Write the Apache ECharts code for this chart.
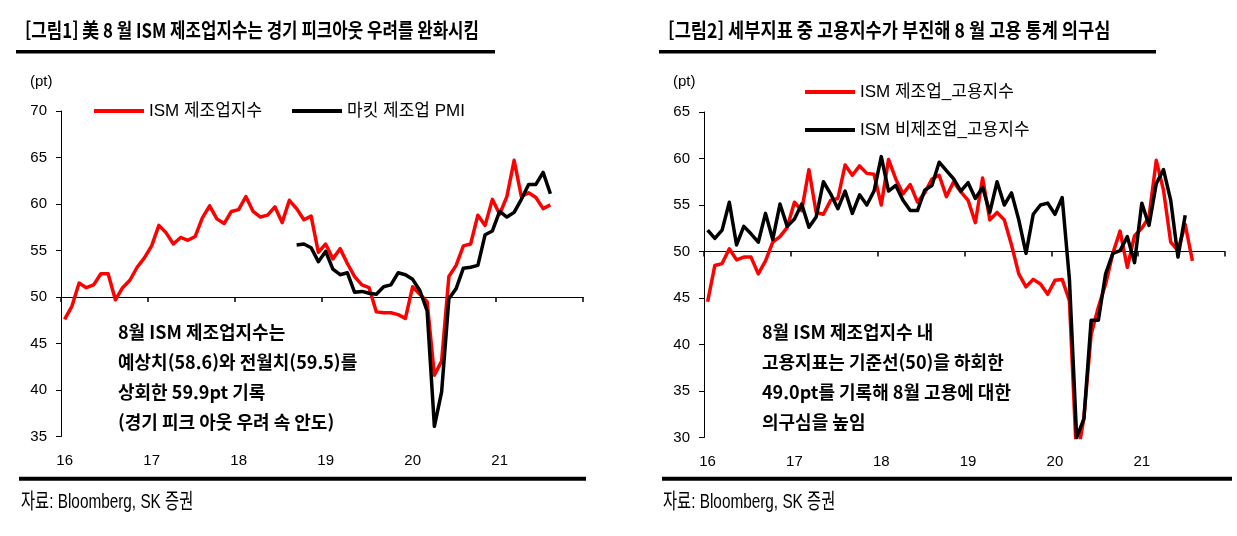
<!DOCTYPE html>
<html lang="ko">
<head>
  <meta charset="UTF-8">
  <title>ISM 제조업지수 / 고용지수</title>
  <script src="https://cdn.jsdelivr.net/npm/echarts@6/dist/echarts.min.js"></script>
  <style>html, body { margin: 0; padding: 0; background: #fff; }</style>
</head>
<body>
  <div id="main" style="width: 1237px; height: 536px;"></div>

  <script>
    // monthly categories, Jan 2016 - Dec 2021 (axis labels show the year only)
    const years = ['16', '17', '18', '19', '20', '21'];
    const months = [];
    years.forEach(y => { for (let m = 1; m <= 12; m++) months.push(y + '-' + m); });

    // [그림1] ISM manufacturing vs Markit manufacturing PMI (pt)
    const ismMfg = [
      47.6, 49.0, 51.5, 51.0, 51.3, 52.5, 52.5, 49.7, 51.0, 51.8, 53.2, 54.2,
      55.5, 57.7, 56.9, 55.7, 56.4, 56.1, 56.5, 58.5, 59.8, 58.4, 57.9, 59.2,
      59.4, 60.8, 59.2, 58.6, 58.8, 59.7, 58.0, 60.4, 59.5, 58.3, 58.7, 54.8,
      55.7, 54.1, 55.2, 53.6, 52.2, 51.3, 51.0, 48.4, 48.3, 48.3, 48.1, 47.7,
      51.1, 50.3, 49.5, 41.6, 43.1, 52.2, 53.4, 55.5, 55.7, 58.8, 57.7, 60.5,
      58.9, 60.8, 64.7, 60.8, 61.2, 60.7, 59.5, 59.9
    ];
    const markitMfg = [
      null, null, null, null, null, null, null, null, null, null, null, null,
      null, null, null, null, null, null, null, null, null, null, null, null,
      null, null, null, null, null, null, null, null, 55.6, 55.7, 55.3, 53.8,
      54.9, 53.0, 52.4, 52.6, 50.5, 50.6, 50.4, 50.3, 51.1, 51.3, 52.6, 52.4,
      51.9, 50.7, 48.5, 36.1, 39.8, 49.8, 50.9, 53.1, 53.2, 53.4, 56.7, 57.1,
      59.2, 58.6, 59.1, 60.5, 62.1, 62.1, 63.4, 61.1
    ];

    // [그림2] ISM employment sub-indices (pt)
    const ismMfgEmp = [
      44.6, 48.5, 48.7, 50.3, 49.1, 49.4, 49.4, 47.6, 49.0, 51.0, 51.6, 52.6,
      55.3, 54.4, 58.8, 54.2, 54.0, 55.5, 55.7, 59.3, 58.2, 59.2, 58.4, 58.3,
      55.0, 59.9, 57.8, 56.2, 57.2, 55.3, 56.3, 57.8, 58.2, 55.9, 57.5, 56.4,
      55.5, 53.1, 57.9, 53.4, 54.2, 53.4, 50.7, 47.6, 46.2, 47.0, 46.5, 45.4,
      46.9, 47.0, 44.7, 27.5, 32.1, 41.1, 44.0, 46.5, 49.8, 52.2, 48.3, 51.7,
      52.5, 53.7, 59.8, 56.6, 51.0, 50.1, 52.9, 49.0
    ];
    const ismSvcEmp = [
      52.3, 51.4, 52.3, 55.3, 50.7, 52.7, 51.9, 51.0, 54.1, 51.3, 55.1, 52.7,
      53.5, 55.1, 52.6, 53.7, 57.5, 56.2, 54.6, 56.5, 54.1, 56.1, 55.0, 56.5,
      60.2, 56.5, 57.1, 55.5, 54.4, 54.4, 56.6, 57.1, 59.6, 58.7, 57.8, 56.5,
      57.4, 55.7, 56.9, 54.2, 57.5, 55.0, 56.3, 53.4, 49.8, 54.0, 55.0, 55.2,
      54.0, 55.8, 47.0, 30.0, 32.0, 42.6, 42.6, 47.6, 49.8, 50.1, 51.6, 48.8,
      55.2, 52.8, 57.3, 58.8, 55.5, 49.4, 53.9
    ];

    const baseline = 50;   // the x axis crosses at 50 in both panels
    const latin = '"Liberation Sans", Arial, "Noto Sans CJK KR", sans-serif';
    const kr = '"Noto Sans CJK KR", sans-serif';
    const axisFont = { fontFamily: latin, fontSize: 15, color: '#000' };

    // x axis pair: line + year ticks sitting on 50, plus a label-only axis at the bottom
    function xAxes(gridIndex, helperY) {
      return [{
        type: 'category', gridIndex: gridIndex, data: months, boundaryGap: true, position: 'bottom',
        axisLine: { onZero: true, onZeroAxisIndex: helperY, lineStyle: { color: '#000', width: 1 } },
        axisTick: { show: true, length: 5, interval: 11, lineStyle: { color: '#000', width: 1.5 } },
        axisLabel: { show: false },
        splitLine: { show: false }
      }, {
        type: 'category', gridIndex: gridIndex, data: months, boundaryGap: true, position: 'bottom',
        axisLine: { show: false, onZero: false },
        axisTick: { show: false },
        axisLabel: Object.assign({ interval: 11, formatter: v => v.split('-')[0], margin: 17 }, axisFont)
      }];
    }

    function yAxes(gridIndex, min, max) {
      return [{
        type: 'value', gridIndex: gridIndex, min: min, max: max, interval: 5,
        axisLine: { show: true, lineStyle: { color: '#000', width: 1 } },
        axisTick: { show: true, length: 5, lineStyle: { color: '#000' } },
        axisLabel: Object.assign({ margin: 14 }, axisFont),
        splitLine: { show: false }
      }, {
        // hidden helper: its zero is the 50 line of the visible axis
        type: 'value', gridIndex: gridIndex, min: min - baseline, max: max - baseline, show: false
      }];
    }

    function line(name, data, color, xi, yi) {
      return {
        name: name, type: 'line', data: data, xAxisIndex: xi, yAxisIndex: yi,
        color: color, showSymbol: false, symbol: 'none',
        lineStyle: { width: 3.5, color: color, join: 'round' }
      };
    }

    function legend(name, left, top) {
      return {
        data: [name], left: left, top: top, padding: 0, itemGap: 0,
        icon: 'rect', itemWidth: 50, itemHeight: 4, selectedMode: false,
        textStyle: { fontFamily: latin, fontSize: 17, color: '#000', lineHeight: 20 }
      };
    }

    function text(x, y, str, font, scaleX) {
      return {
        type: 'text', x: x, y: y, scaleX: scaleX || 1,
        style: { text: str, font: font, fill: '#000', verticalAlign: 'middle' }
      };
    }

    function note(x, y, str) {
      return {
        type: 'text', x: x, y: y,
        style: { text: str, font: 'bold 18px ' + kr, fill: '#000', verticalAlign: 'top', lineHeight: 30 }
      };
    }

    function rule(x, y, w, h) {
      return { type: 'rect', shape: { x: x, y: y, width: w, height: h }, style: { fill: '#000' } };
    }

    const myChart = echarts.init(document.getElementById('main'));

    const option = {
      animation: false,
      backgroundColor: '#fff',
      grid: [
        { left: 61, top: 111, width: 522, height: 325.5 },
        { left: 704, top: 112, width: 521, height: 325.5 }
      ],
      xAxis: xAxes(0, 1).concat(xAxes(1, 3)),
      yAxis: yAxes(0, 35, 70).concat(yAxes(1, 30, 65)),
      legend: [
        legend('ISM 제조업지수', 94, 101),
        legend('마킷 제조업 PMI', 292, 101),
        legend('ISM 제조업_고용지수', 805, 82),
        legend('ISM 비제조업_고용지수', 805, 120)
      ],
      series: [
        line('ISM 제조업지수', ismMfg, '#ff0000', 0, 0),
        line('마킷 제조업 PMI', markitMfg, '#000000', 0, 0),
        line('ISM 제조업_고용지수', ismMfgEmp, '#ff0000', 2, 2),
        line('ISM 비제조업_고용지수', ismSvcEmp, '#000000', 2, 2)
      ],
      graphic: [
        // titles and rules
        text(25, 30, '[그림1] 美 8 월 ISM 제조업지수는 경기 피크아웃 우려를 완화시킴', 'bold 20px ' + kr, 0.84),
        text(668, 30, '[그림2] 세부지표 중 고용지수가 부진해 8 월 고용 통계 의구심', 'bold 20px ' + kr, 0.88),
        rule(16, 50, 479, 3.5),
        rule(659, 50, 497, 3.5),
        rule(19, 476.7, 567, 4),
        rule(662, 476.7, 570, 4),
        // unit labels
        text(30, 82, '(pt)', '15px ' + latin),
        text(673, 82, '(pt)', '15px ' + latin),
        // notes
        note(118, 317, '8월 ISM 제조업지수는\n예상치(58.6)와 전월치(59.5)를\n상회한 59.9pt 기록\n(경기 피크 아웃 우려 속 안도)'),
        note(762, 317, '8월 ISM 제조업지수 내\n고용지표는 기준선(50)을 하회한\n49.0pt를 기록해 8월 고용에 대한\n의구심을 높임'),
        // sources
        text(21, 502, '자료: Bloomberg, SK 증권', '21px ' + latin, 0.73),
        text(663, 502, '자료: Bloomberg, SK 증권', '21px ' + latin, 0.73)
      ]
    };

    myChart.setOption(option);
  </script>
</body>
</html>
